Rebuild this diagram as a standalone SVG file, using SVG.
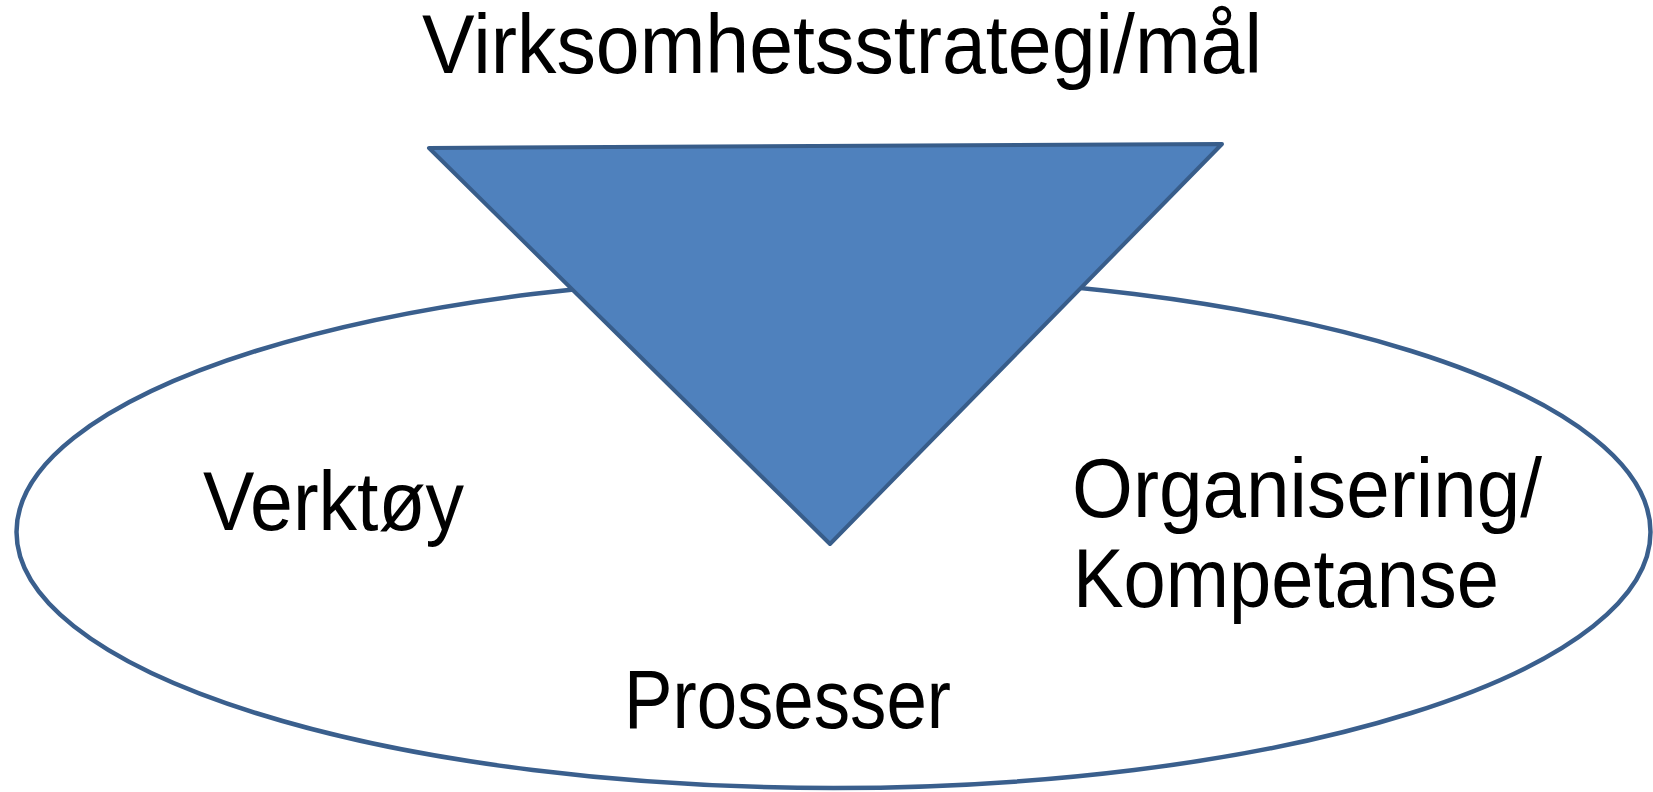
<svg xmlns="http://www.w3.org/2000/svg" width="1653" height="792" viewBox="0 0 1653 792">
<style>
.t{font-family:"Liberation Sans",Arial,sans-serif;font-size:84px;fill:#000}
</style>
<rect width="1653" height="792" fill="#fff"/>
<g id="ellipse">
<ellipse cx="833.5" cy="532" rx="817" ry="256" fill="#fff" stroke="#3A5F8D" stroke-width="4.5"/>
</g>
<g id="triangle">
<polygon points="429,148 1222,144 830,544" fill="#4F81BD" stroke="#385D8A" stroke-width="4" stroke-linejoin="round"/>
</g>
<g id="title"><text class="t" x="422" y="73" font-size="88" textLength="840" lengthAdjust="spacingAndGlyphs">Virksomhetsstrategi/mål</text></g>
<g id="verktoy"><text class="t" x="203" y="530" textLength="261" lengthAdjust="spacingAndGlyphs">Verktøy</text></g>
<g id="organisering">
<text class="t" x="1072" y="517" textLength="470" lengthAdjust="spacingAndGlyphs">Organisering/</text>
<text class="t" x="1073" y="607" textLength="426" lengthAdjust="spacingAndGlyphs">Kompetanse</text>
</g>
<g id="prosesser"><text class="t" x="624" y="728" textLength="327" lengthAdjust="spacingAndGlyphs">Prosesser</text></g>
<g id="connectors"></g>
</svg>
